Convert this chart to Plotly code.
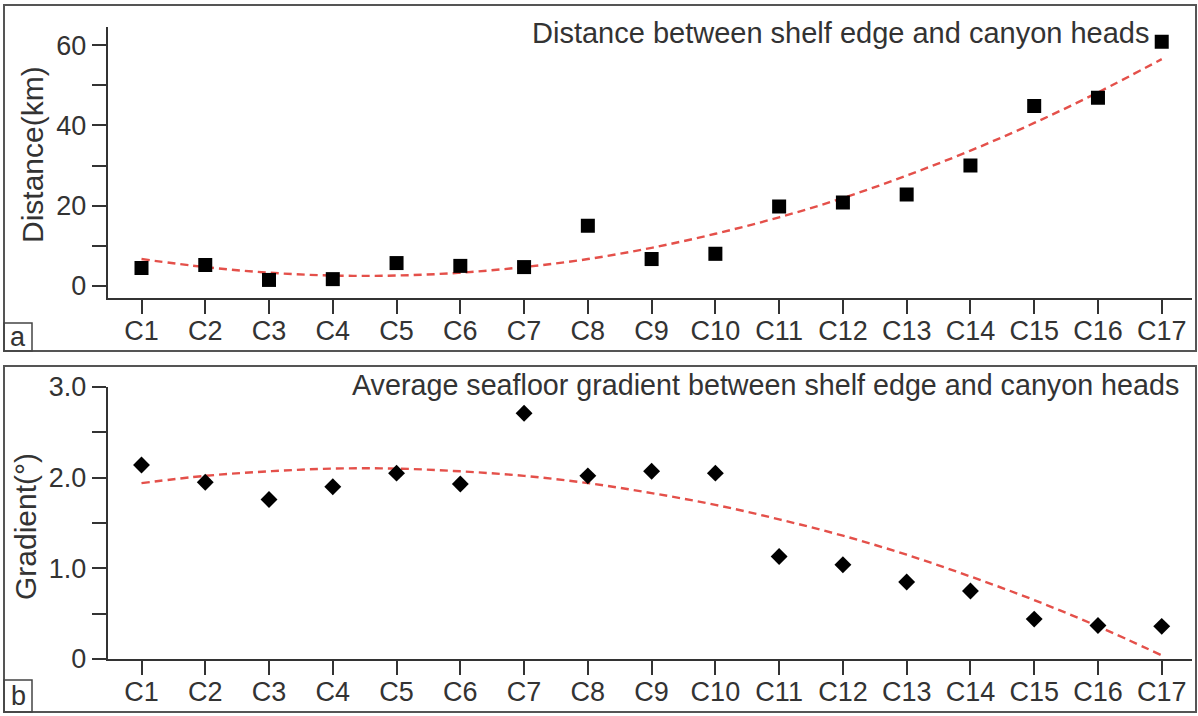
import plotly.graph_objects as go

W, H = 1198, 716

categories = ["C%d" % i for i in range(1, 18)]
distance_km = [4.5, 5.2, 1.5, 1.7, 5.7, 5.0, 4.7, 15.0, 6.7, 8.0, 19.8, 20.8, 22.8, 30.0, 44.8, 46.9, 60.8]
distance_trend = [6.7, 4.7, 3.3, 2.6, 2.6, 3.3, 4.7, 6.7, 9.5, 13.0, 17.1, 21.9, 27.5, 33.7, 40.6, 48.2, 56.5]
gradient_deg = [2.14, 1.95, 1.76, 1.90, 2.05, 1.93, 2.71, 2.02, 2.07, 2.05, 1.13, 1.04, 0.85, 0.75, 0.44, 0.37, 0.36]
gradient_trend = [1.94, 2.02, 2.07, 2.10, 2.10, 2.07, 2.02, 1.94, 1.83, 1.70, 1.54, 1.36, 1.15, 0.91, 0.65, 0.36, 0.04]
dist_ticks = [0, 20, 40, 60]
dist_ticklabels = ["0", "20", "40", "60"]
grad_ticks = [0, 1.0, 2.0, 3.0]
grad_ticklabels = ["0", "1.0", "2.0", "3.0"]

FONT = "Liberation Sans, Arial, sans-serif"
TXT = "#333333"
AX = "#333333"
RED = "#e4504a"

def px(x):
    return x / W

def py(y):
    return 1 - y / H

fig = go.Figure()

fig.add_trace(go.Scatter(x=categories, y=distance_trend, mode="lines", line=dict(color=RED, width=2.4, dash="8px,5px", shape="spline"),
                         xaxis="x", yaxis="y", showlegend=False, hoverinfo="skip"))
fig.add_trace(go.Scatter(x=categories, y=distance_km, mode="markers", marker=dict(symbol="square", size=14, color="black"),
                         xaxis="x", yaxis="y", showlegend=False))
fig.add_trace(go.Scatter(x=categories, y=gradient_trend, mode="lines", line=dict(color=RED, width=2.4, dash="8px,5px", shape="spline"),
                         xaxis="x2", yaxis="y2", showlegend=False, hoverinfo="skip"))
fig.add_trace(go.Scatter(x=categories, y=gradient_deg, mode="markers", marker=dict(symbol="diamond", size=13, color="black"),
                         xaxis="x2", yaxis="y2", showlegend=False))

tickfont = dict(family=FONT, size=27, color=TXT)
xcommon = dict(type="category", range=[-0.53, 16.47], showline=True, linecolor=AX, linewidth=2,
               ticks="outside", ticklen=14, tickwidth=2, tickcolor=AX, tickfont=tickfont, ticklabelstandoff=-6,
               showgrid=False, zeroline=False, domain=[px(107.7), px(1191.7)])

fig.update_layout(
    width=W, height=H, margin=dict(l=0, r=0, t=0, b=0, autoexpand=False),
    paper_bgcolor="white", plot_bgcolor="white",
    xaxis=dict(**xcommon, anchor="y"),
    yaxis=dict(range=[-3, 64.5], domain=[py(298), py(27)], anchor="x", showline=True, linecolor=AX, linewidth=2,
               ticks="outside", ticklen=14, tickwidth=2, tickcolor=AX, tickfont=tickfont,
               tickvals=dist_ticks, ticktext=dist_ticklabels, showgrid=False, zeroline=False,
               minor=dict(dtick=10, tick0=0, ticks="outside", ticklen=14, tickwidth=2, tickcolor=AX, showgrid=False)),
    xaxis2=dict(**xcommon, anchor="y2"),
    yaxis2=dict(range=[0, 3.0], domain=[py(659), py(387)], anchor="x2", showline=True, linecolor=AX, linewidth=2,
                ticks="outside", ticklen=14, tickwidth=2, tickcolor=AX, tickfont=tickfont,
                tickvals=grad_ticks, ticktext=grad_ticklabels, showgrid=False, zeroline=False,
                minor=dict(dtick=0.5, tick0=0, ticks="outside", ticklen=14, tickwidth=2, tickcolor=AX, showgrid=False)),
)

shapes = [
    dict(type="rect", xref="paper", yref="paper", x0=px(4), x1=px(1196), y0=py(351), y1=py(5), line=dict(color="#555555", width=2)),
    dict(type="rect", xref="paper", yref="paper", x0=px(4), x1=px(1196), y0=py(712), y1=py(366), line=dict(color="#555555", width=2)),
    dict(type="rect", xref="paper", yref="paper", x0=px(4), x1=px(32), y0=py(351), y1=py(323), line=dict(color="#444444", width=1.5)),
    dict(type="rect", xref="paper", yref="paper", x0=px(4), x1=px(32), y0=py(712), y1=py(680), line=dict(color="#444444", width=1.5)),
]
fig.update_layout(shapes=shapes)

annots = [
    dict(text="Distance between shelf edge and canyon heads", x=px(1152), y=py(33), xanchor="right", yanchor="middle",
         font=dict(family=FONT, size=29, color=TXT)),
    dict(text="Average seafloor gradient between shelf edge and canyon heads", x=px(1181), y=py(385), xanchor="right", yanchor="middle",
         font=dict(family=FONT, size=28.7, color=TXT)),
    dict(text="Distance(km)", x=px(32), y=py(155), xanchor="center", yanchor="middle", textangle=-90,
         font=dict(family=FONT, size=30, color=TXT)),
    dict(text="Gradient(°)", x=px(25), y=py(527), xanchor="center", yanchor="middle", textangle=-90,
         font=dict(family=FONT, size=30, color=TXT)),
    dict(text="a", x=px(18), y=py(337), xanchor="center", yanchor="middle", font=dict(family=FONT, size=27, color=TXT)),
    dict(text="b", x=px(18), y=py(696), xanchor="center", yanchor="middle", font=dict(family=FONT, size=27, color=TXT)),
]
for a in annots:
    a.update(xref="paper", yref="paper", showarrow=False)
fig.update_layout(annotations=annots)

fig.write_html("out.html", config={"displayModeBar": False},
               post_script="document.body.style.margin='0';document.body.style.overflow='hidden';")
